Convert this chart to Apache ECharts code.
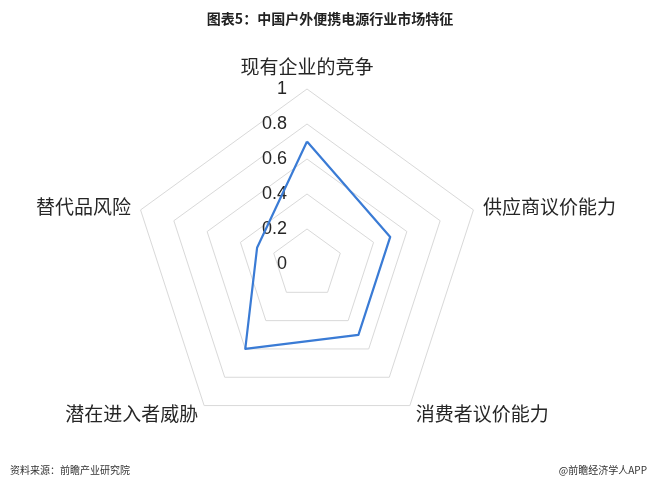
<!DOCTYPE html>
<html>
<head>
<meta charset="utf-8">
<script src="https://cdn.jsdelivr.net/npm/echarts@6/dist/echarts.min.js"></script>
<style>
html,body{margin:0;padding:0;background:#fff;}
#chart{width:660px;height:486px;}
</style>
</head>
<body>
<div id="chart"></div>
<script>
var categories = ['现有企业的竞争', '供应商议价能力', '消费者议价能力', '潜在进入者威胁', '替代品风险'];
var values = [0.7, 0.5, 0.5, 0.6, 0.3];
var axisMin = 0, axisMax = 1, axisStep = 0.2;
var titleText = '图表5：中国户外便携电源行业市场特征';
var sourceText = '资料来源：前瞻产业研究院';
var creditText = '@前瞻经济学人APP';

var FONT = '"Noto Sans CJK SC", "Liberation Sans", sans-serif';
var chart = echarts.init(document.getElementById('chart'), null, {renderer: 'canvas'});
var center = [307, 264];
var radius = 175;

// ECharts radar runs counter-clockwise; reorder so the categories go clockwise from the top
var order = [0];
for (var i = categories.length - 1; i > 0; i--) order.push(i);
var radarCats = order.map(function (k) { return categories[k]; });
var radarVals = order.map(function (k) { return values[k]; });

chart.setOption({
  backgroundColor: '#ffffff',
  animation: false,
  title: [
    {text: titleText, left: 'center', top: 7,
     textStyle: {fontFamily: FONT, fontSize: 14, fontWeight: 'bold', color: '#222'}},
    {text: sourceText, left: 5, top: 460,
     textStyle: {fontFamily: FONT, fontSize: 10, fontWeight: 'normal', color: '#333'}},
    {text: creditText, right: 8, top: 460,
     textStyle: {fontFamily: FONT, fontSize: 10, fontWeight: 'normal', color: '#333'}}
  ],
  radar: {
    center: center,
    radius: radius,
    startAngle: 90,
    splitNumber: 5,
    shape: 'polygon',
    nameGap: 10,
    indicator: radarCats.map(function (c) { return {name: c, min: axisMin, max: axisMax}; }),
    axisName: {
      color: '#262626',
      fontFamily: FONT,
      fontSize: 19,
      verticalAlign: 'middle',
      formatter: function (name, ind) {
        return name === categories[0] ? '{top|' + name + '}' : '{n|' + name + '}';
      },
      rich: {
        top: {fontFamily: FONT, fontSize: 19, color: '#262626', padding: [0, 0, 24, 0]},
        n: {fontFamily: FONT, fontSize: 19, color: '#262626'}
      }
    },
    axisLine: {show: false},
    axisTick: {show: false},
    axisLabel: {show: false},
    splitArea: {show: false},
    splitLine: {lineStyle: {color: '#d9d9d9', width: 1}}
  },
  polar: {center: center, radius: radius},
  angleAxis: {show: false, startAngle: 90, min: 0, max: 360},
  radiusAxis: {
    min: axisMin, max: axisMax, interval: axisStep,
    axisLine: {show: false},
    axisTick: {show: false},
    splitLine: {show: false},
    axisLabel: {show: true, fontFamily: '"Liberation Sans", Arial, sans-serif', fontSize: 18, color: '#262626', margin: 20}
  },
  series: [{
    type: 'radar',
    symbol: 'none',
    lineStyle: {color: '#3a7bd5', width: 2.2},
    itemStyle: {color: '#3a7bd5'},
    data: [{value: radarVals, name: '市场特征'}]
  }]
});
</script>
</body>
</html>
